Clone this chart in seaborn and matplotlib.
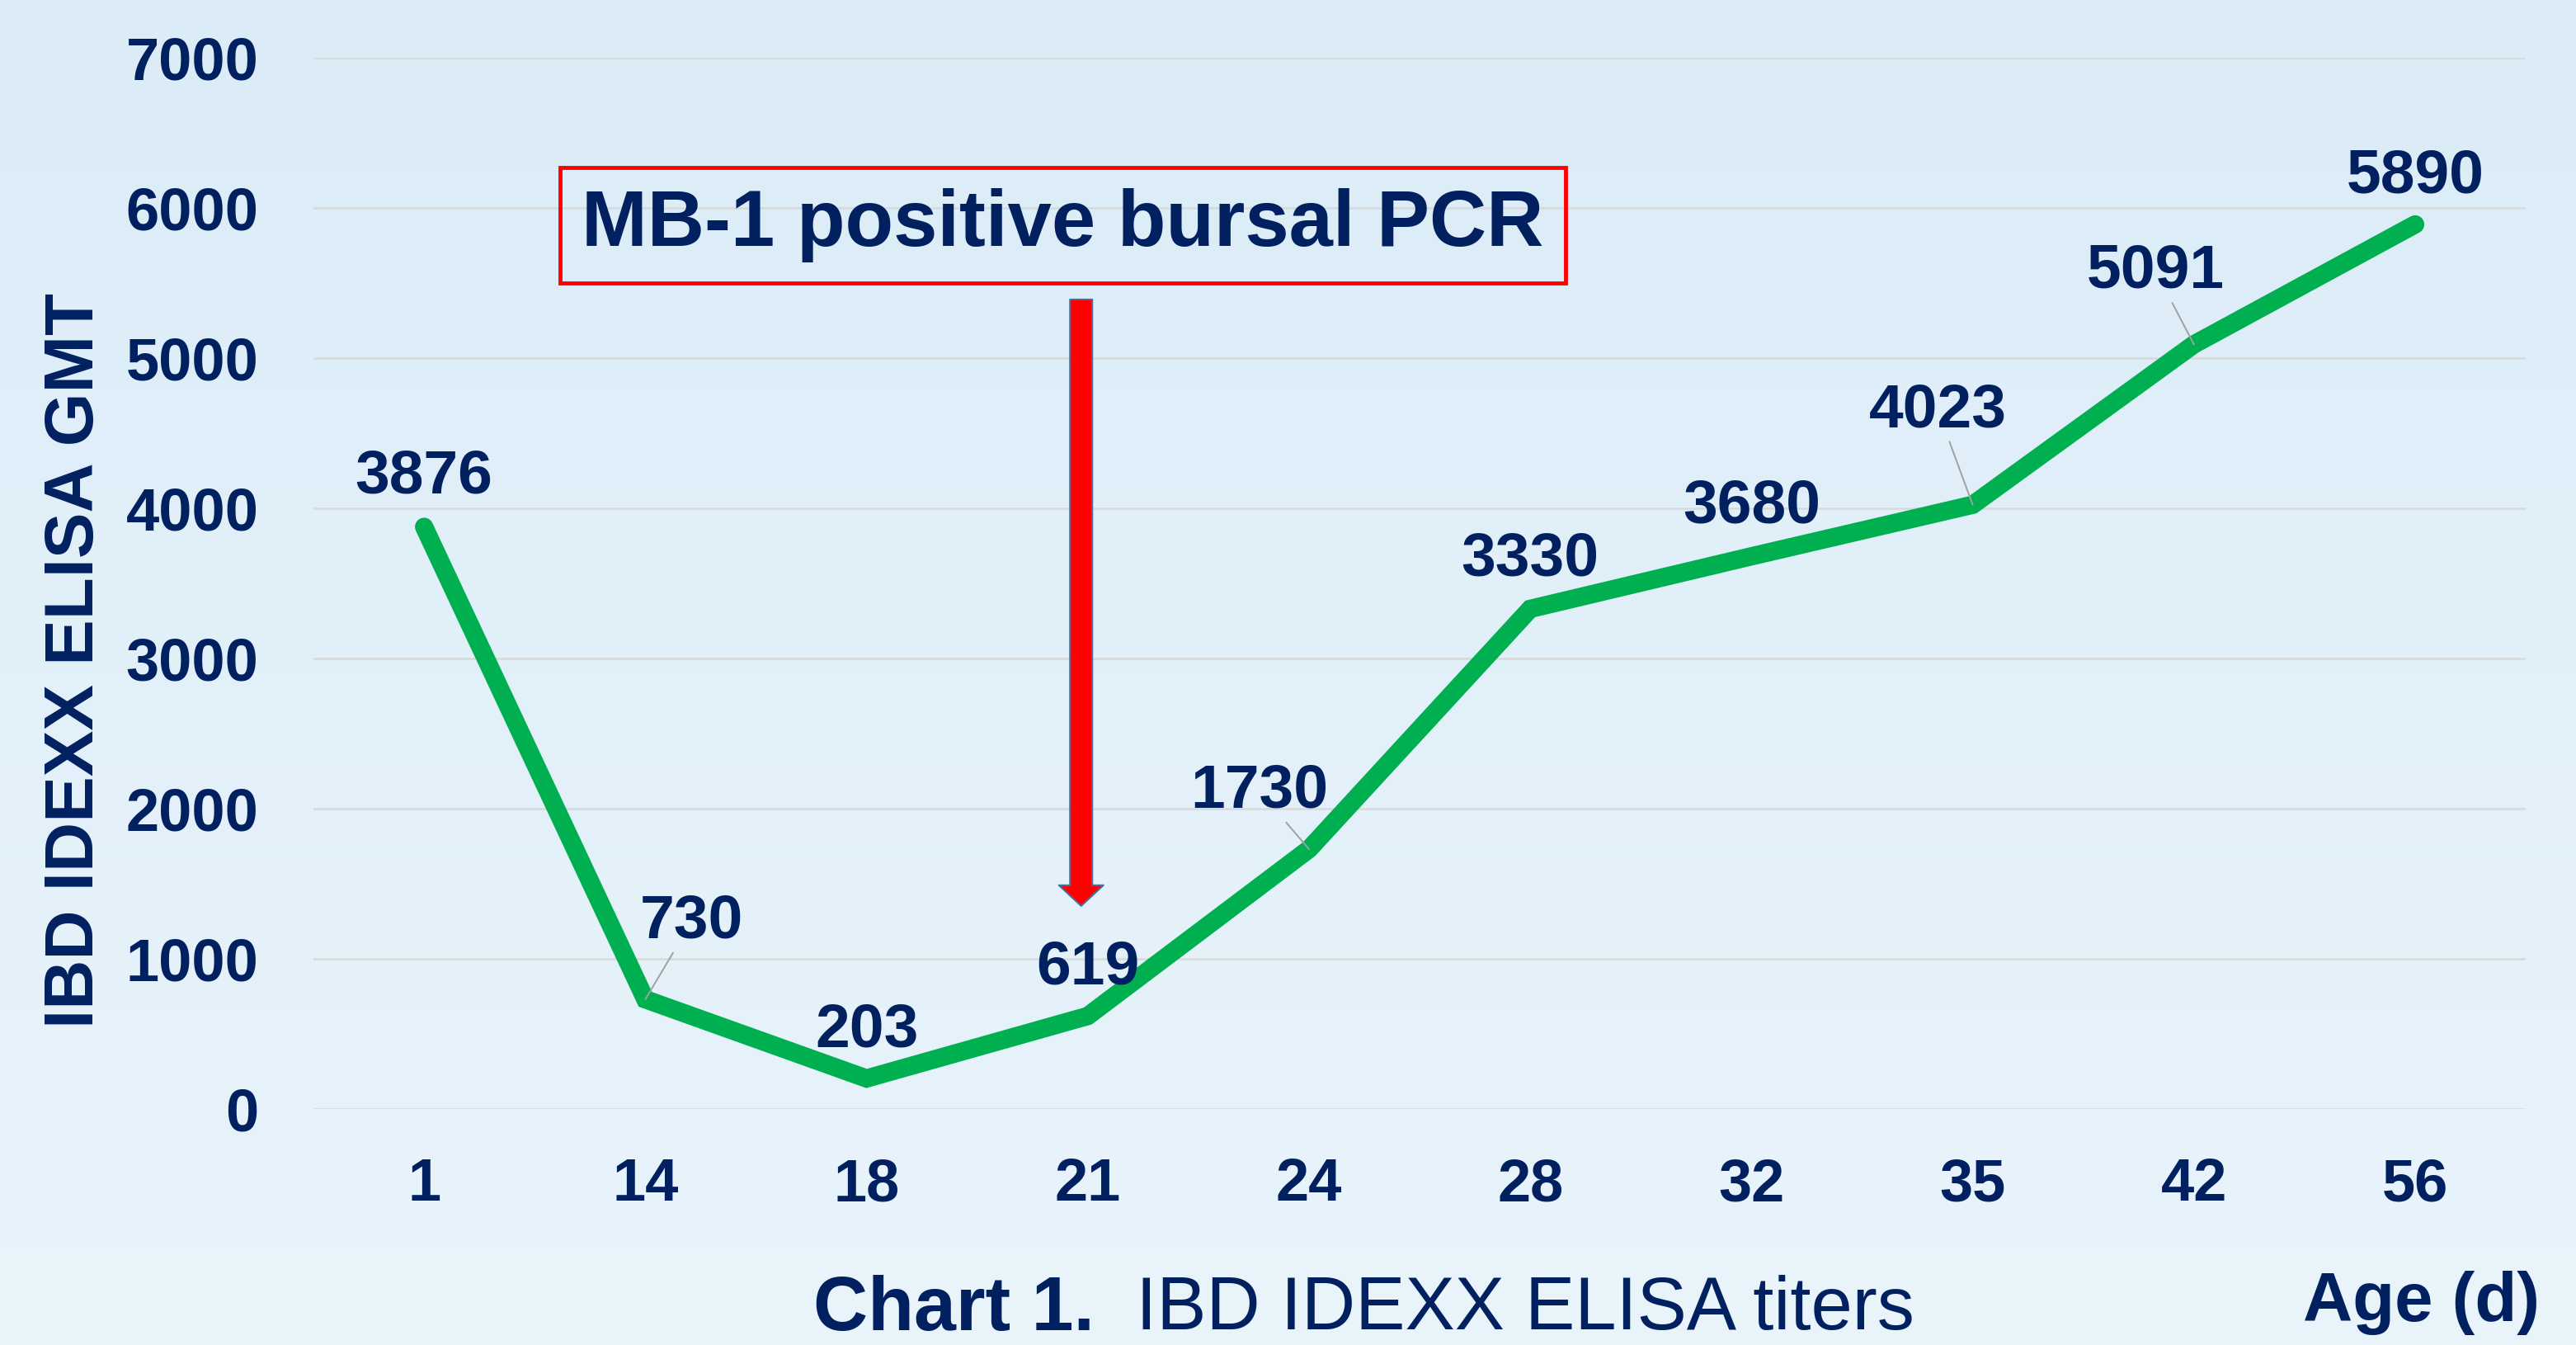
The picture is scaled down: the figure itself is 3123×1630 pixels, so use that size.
import numpy as np
import pandas as pd
import matplotlib
matplotlib.use("Agg")
import matplotlib.pyplot as plt
import matplotlib.patches as patches
import seaborn as sns

# ---- data ----
ages = ['1', '14', '18', '21', '24', '28', '32', '35', '42', '56']
gmt = [3876, 730, 203, 619, 1730, 3330, 3680, 4023, 5091, 5890]
# label offsets from each point (pixels) and whether a leader line is shown
label_dx = [0, 56, 0, 0, -60, 0, 0, -42, -46, 0]
label_dy = [60, 94, 58, 58, 70, 60, 60, 114, 88, 58]
leader = [False, True, False, False, True, False, False, True, True, False]

# arrow marking the positive PCR (x index, top and tip in GMT units)
arrow_x = 2.97
arrow_top = 5390
arrow_tip = 1352

NAVY = '#002060'
GREEN = '#00B050'

sns.set_style('white')
plt.rcParams['font.family'] = ['Liberation Sans', 'DejaVu Sans']

fig = plt.figure(figsize=(31.23, 16.30), dpi=100)

# light blue gradient background
bg = fig.add_axes([0, 0, 1, 1], zorder=-10)
top_c = np.array([219, 236, 247]) / 255
bot_c = np.array([233, 244, 251]) / 255
t = np.linspace(0, 1, 256)[:, None]
grad = (top_c * (1 - t) + bot_c * t)[:, None, :]
bg.imshow(grad, aspect='auto', extent=[0, 1, 0, 1])
bg.axis('off')

ax = fig.add_axes([0.1217, 0.1755, 0.8588, 0.7816])
ax.set_facecolor('none')

df = pd.DataFrame({'Age': ages, 'GMT': gmt})
sns.lineplot(data=df, x='Age', y='GMT', ax=ax, color=GREEN, linewidth=16,
             solid_capstyle='round', solid_joinstyle='miter', clip_on=False,
             zorder=3)

ax.set_xlim(-0.5, len(ages) - 0.5)
ax.set_ylim(0, 7000)
ax.set_yticks(np.arange(0, 7001, 1000))
ax.grid(axis='y', color='#D9D9D9', linewidth=1.8)
ax.grid(axis='x', visible=False)
for s in ax.spines.values():
    s.set_visible(False)
ax.tick_params(axis='both', length=0, labelsize=52, labelcolor=NAVY)
ax.tick_params(axis='y', pad=48)
ax.tick_params(axis='x', pad=42)
for lab in ax.get_xticklabels() + ax.get_yticklabels():
    lab.set_fontweight('bold')
ax.set_xlabel('')
ax.set_ylabel('')

# data labels
for i, v in enumerate(gmt):
    props = None
    if leader[i]:
        props = dict(arrowstyle='-', color='#A0A0A0', lw=1.4,
                     shrinkA=0, shrinkB=0)
    ax.annotate(str(v), xy=(i, v), xytext=(label_dx[i], label_dy[i]),
                textcoords='offset pixels', ha='center', va='center',
                fontsize=54, fontweight='bold', color=NAVY,
                arrowprops=props, zorder=5)

# red arrow
ax.annotate('', xy=(arrow_x, arrow_tip), xytext=(arrow_x, arrow_top),
            arrowprops=dict(arrowstyle='simple,head_length=0.9,head_width=1.94,tail_width=0.97',
                            mutation_scale=20, fc='#FF0000', ec='#41719C', lw=1.5,
                            shrinkA=0, shrinkB=0), zorder=6)

# boxed note
fig.patches.append(patches.Rectangle((0.2174, 0.7896), 0.3903, 0.0859,
                                     transform=fig.transFigure, fill=False,
                                     edgecolor='#FF0000', linewidth=3.5))
fig.text(0.4124, 0.8325, 'MB-1 positive bursal PCR', ha='center', va='center',
         fontsize=69, fontweight='bold', color=NAVY)

# axis titles
fig.text(0.029, 0.509, 'IBD IDEXX ELISA GMT', rotation=90, ha='center',
         va='center', fontsize=60, fontweight='bold', color=NAVY)
fig.text(0.986, 0.031, 'Age (d)', ha='right', va='center', fontsize=60,
         fontweight='bold', color=NAVY)

# chart caption
cap1 = fig.text(0.3157, 0.026, 'Chart 1.', ha='left', va='center', fontsize=66,
                fontweight='bold', color=NAVY)
fig.canvas.draw()
bb = cap1.get_window_extent()
fig.text(bb.x1 / fig.bbox.width, 0.026, '  IBD IDEXX ELISA titers', ha='left',
         va='center', fontsize=65, color=NAVY)

fig.savefig('out.png', dpi=100)
